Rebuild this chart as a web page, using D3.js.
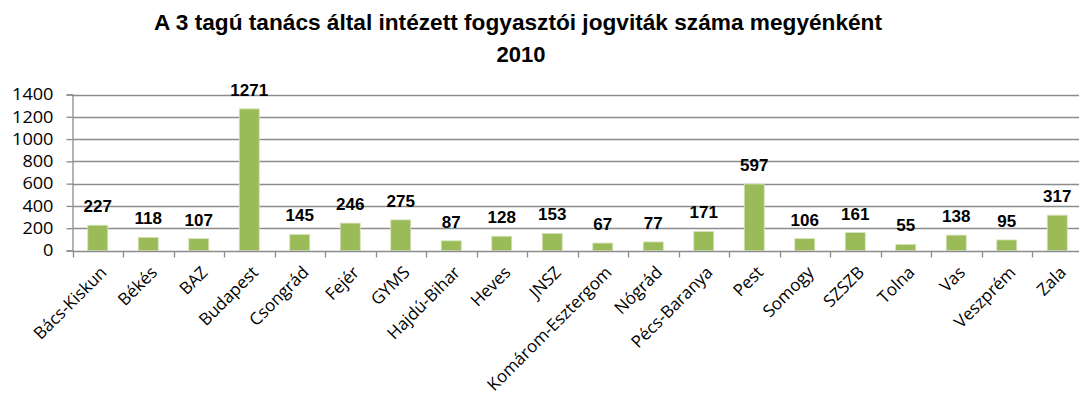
<!DOCTYPE html>
<html>
<head>
<meta charset="utf-8">
<script src="https://cdn.jsdelivr.net/npm/d3@7"></script>
<style>
  body { margin: 0; background: #fff; }
</style>
</head>
<body>
<div class="container"></div>
<script>
const counties = ["Bács-Kiskun", "Békés", "BAZ", "Budapest", "Csongrád", "Fejér", "GYMS",
  "Hajdú-Bihar", "Heves", "JNSZ", "Komárom-Esztergom", "Nógrád", "Pécs-Baranya", "Pest",
  "Somogy", "SZSZB", "Tolna", "Vas", "Veszprém", "Zala"];
const disputes = [227, 118, 107, 1271, 145, 246, 275, 87, 128, 153, 67, 77, 171, 597, 106, 161, 55, 138, 95, 317];
const yTicks = [0, 200, 400, 600, 800, 1000, 1200, 1400];
const titleLines = ["A 3 tagú tanács által intézett fogyasztói jogviták száma megyénként", "2010"];

const width = 1079, height = 407;
const svg = d3.select(".container").append("svg")
  .attr("width", width).attr("height", height);

const x = d3.scaleBand().domain(counties).range([72.5, 1082.5]);
const y = d3.scaleLinear().domain([0, 1400]).range([250.5, 94.5]);

// title
svg.append("text")
  .attr("x", 518).attr("y", 30)
  .attr("text-anchor", "middle")
  .style("font-family", "Liberation Sans, Arial, sans-serif")
  .style("font-weight", "bold").style("font-size", "22px")
  .attr("textLength", 728).attr("lengthAdjust", "spacingAndGlyphs")
  .text(titleLines[0]);
svg.append("text")
  .attr("x", 521).attr("y", 62)
  .attr("text-anchor", "middle")
  .style("font-family", "Liberation Sans, Arial, sans-serif")
  .style("font-weight", "bold").style("font-size", "22px")
  .text(titleLines[1]);

// gridlines
svg.append("g")
  .selectAll("line").data(yTicks.slice(1)).enter().append("line")
  .attr("x1", 72.5).attr("x2", width)
  .attr("y1", d => Math.round(y(d)) + 0.5).attr("y2", d => Math.round(y(d)) + 0.5)
  .attr("stroke", "#8c8c8c").attr("stroke-width", 1.3);

// y axis
const yAxis = svg.append("g")
  .attr("transform", "translate(72.5,0)")
  .call(d3.axisLeft(y).tickValues(yTicks).tickSize(6).tickPadding(0).tickFormat(d3.format("d")));
yAxis.select(".domain").attr("stroke", "#8c8c8c").attr("stroke-width", 1.3);
yAxis.selectAll(".tick line").attr("stroke", "#8c8c8c").attr("stroke-width", 1.3);
yAxis.selectAll("text")
  .attr("x", null)
  .attr("transform", "translate(-19,0) scale(1.1,1)")
  .style("font-family", "Open Sans, sans-serif").style("font-size", "16.5px").attr("fill", "#000");

// bars
svg.append("g")
  .selectAll("rect").data(disputes).enter().append("rect")
  .attr("x", (d, i) => x(counties[i]) + x.bandwidth() / 2 - 10)
  .attr("width", 20)
  .attr("y", d => y(d))
  .attr("height", d => y(0) - y(d))
  .attr("fill", "#9bbb59")
  .attr("stroke", "#d7e4bd").attr("stroke-width", 0.8);

// x axis
const xAxis = svg.append("g")
  .attr("transform", "translate(0," + (Math.round(y(0)) + 0.5) + ")");
xAxis.append("line")
  .attr("x1", 72.5).attr("x2", width)
  .attr("stroke", "#8c8c8c").attr("stroke-width", 1.3);
xAxis.selectAll(".tk").data(counties).enter().append("line")
  .attr("class", "tk")
  .attr("x1", d => Math.round(x(d)) + 0.5).attr("x2", d => Math.round(x(d)) + 0.5)
  .attr("y1", 0).attr("y2", 6)
  .attr("stroke", "#8c8c8c").attr("stroke-width", 1.3);
xAxis.selectAll("text").data(counties).enter().append("text")
  .attr("transform", d => "translate(" + (x(d) + x.bandwidth() / 2 + 10) + ",22) rotate(-45)")
  .attr("text-anchor", "end")
  .style("font-family", "Open Sans, sans-serif").style("font-size", "17px")
  .text(d => d);

// value labels
svg.append("g")
  .selectAll("text").data(disputes).enter().append("text")
  .attr("x", (d, i) => x(counties[i]) + x.bandwidth() / 2)
  .attr("y", d => y(d) - 13)
  .attr("text-anchor", "middle")
  .style("font-family", "Liberation Sans, Arial, sans-serif")
  .style("font-weight", "bold").style("font-size", "17px")
  .text(d => d);
</script>
</body>
</html>
